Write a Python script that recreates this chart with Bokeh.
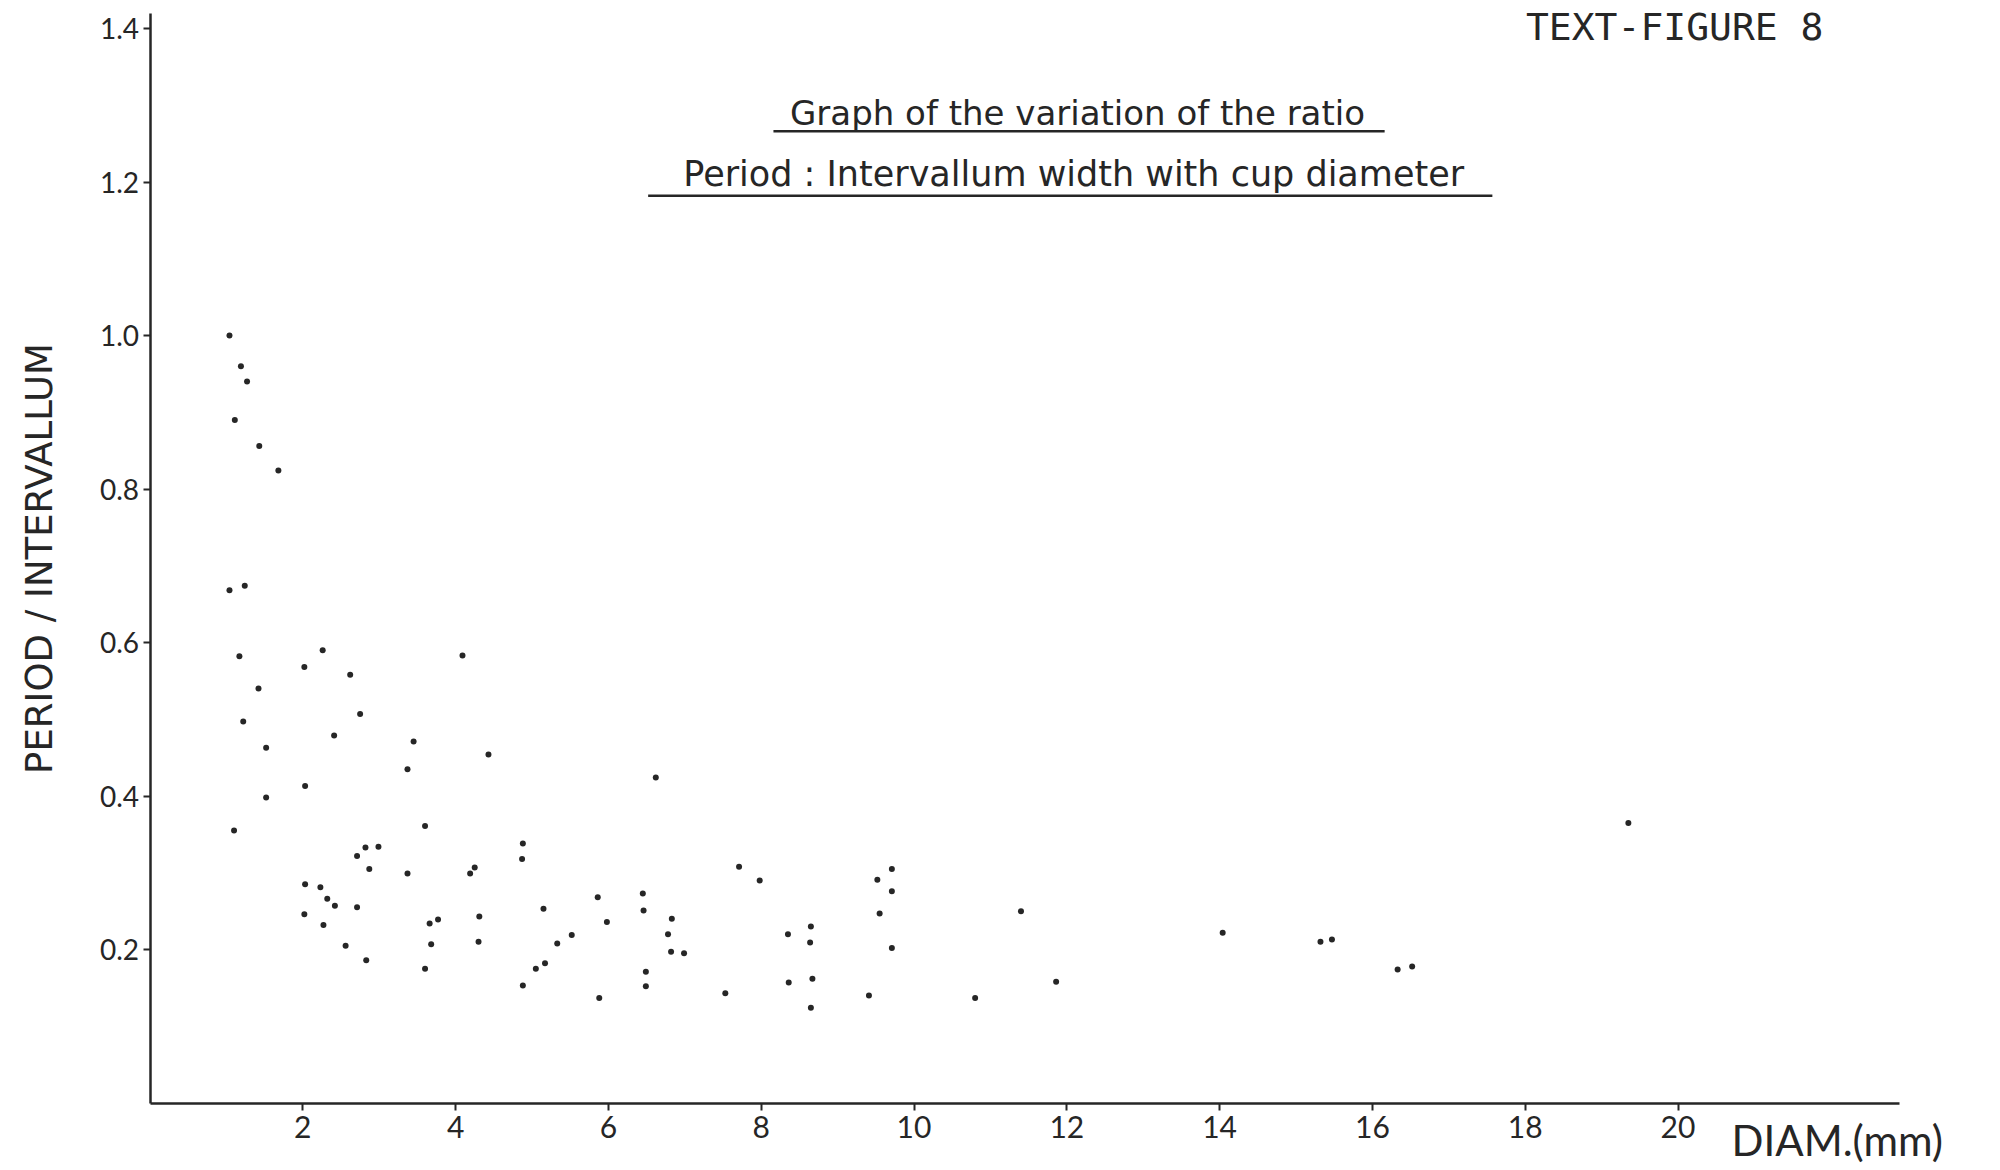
from bokeh.plotting import figure
from bokeh.models import Label, FixedTicker, PrintfTickFormatter, Range1d, ColumnDataSource
from bokeh.embed import file_html
from bokeh.resources import INLINE

# ---- data ----
diam = [1.04, 1.19, 1.27, 1.11, 1.43, 1.68, 1.04, 1.24, 2.26, 1.17,
        2.02, 2.62, 1.42, 2.75, 1.22, 2.41, 3.45, 1.52, 3.37, 2.03,
        1.52, 1.10, 3.60, 2.82, 2.99, 2.71, 2.87, 3.37, 2.03, 2.23,
        2.32, 2.42, 2.71, 2.02, 2.27, 3.66, 3.77, 3.68, 2.56, 2.83,
        3.60, 4.09, 4.43, 6.62, 4.88, 4.87, 4.25, 4.19, 5.86, 6.45,
        6.46, 5.15, 5.98, 4.31, 6.83, 6.78, 4.30, 5.33, 5.52, 6.82,
        6.99, 5.17, 5.05, 6.49, 6.49, 4.88, 5.88, 7.71, 7.98, 9.71,
        9.52, 9.71, 9.55, 8.65, 8.35, 8.64, 9.71, 8.36, 8.67, 7.53,
        9.41, 8.65, 10.80, 11.40, 14.04, 11.86, 15.32, 15.47, 16.33, 16.52,
        19.35]
ratio = [1.000, 0.960, 0.940, 0.890, 0.856, 0.824, 0.668, 0.674, 0.590, 0.582,
         0.568, 0.558, 0.540, 0.507, 0.497, 0.479, 0.471, 0.463, 0.435, 0.413,
         0.398, 0.355, 0.361, 0.333, 0.334, 0.322, 0.305, 0.299, 0.285, 0.281,
         0.266, 0.257, 0.255, 0.246, 0.232, 0.234, 0.239, 0.207, 0.205, 0.186,
         0.175, 0.583, 0.454, 0.424, 0.338, 0.318, 0.307, 0.299, 0.268, 0.273,
         0.251, 0.253, 0.236, 0.243, 0.240, 0.220, 0.210, 0.208, 0.219, 0.197,
         0.195, 0.182, 0.175, 0.171, 0.152, 0.153, 0.137, 0.308, 0.290, 0.305,
         0.291, 0.276, 0.247, 0.230, 0.220, 0.209, 0.202, 0.157, 0.162, 0.143,
         0.140, 0.124, 0.137, 0.250, 0.222, 0.158, 0.210, 0.213, 0.174, 0.178,
         0.365]

x_ticks = [2, 4, 6, 8, 10, 12, 14, 16, 18, 20]
y_ticks = [0.2, 0.4, 0.6, 0.8, 1.0, 1.2, 1.4]

figure_label = "TEXT-FIGURE  8"
title_line1 = "Graph of the variation of the ratio"
title_line2 = "Period : Intervallum width with cup diameter"
x_label = "DIAM.(mm)"
y_label = "PERIOD / INTERVALLUM"

INK = "#262626"

# frame fills the whole canvas; axes are pinned at x=0 / y=0
p = figure(width=1990, height=1165,
           x_range=Range1d(-1.957, 24.09), y_range=Range1d(-0.0814, 1.4365),
           output_backend="svg", toolbar_location=None,
           min_border_left=0, min_border_right=0,
           min_border_top=0, min_border_bottom=0)
p.grid.visible = False
p.outline_line_color = None
p.background_fill_color = "white"
p.border_fill_color = "white"

# x axis
xa = p.xaxis[0]
xa.fixed_location = 0
xa.bounds = (0, 22.9)
xa.ticker = FixedTicker(ticks=x_ticks)
xa.formatter = PrintfTickFormatter(format="%d")
xa.axis_line_width = 2.5
xa.axis_line_color = INK
xa.major_tick_line_color = INK
xa.major_tick_line_width = 2
xa.major_tick_out = 7
xa.major_tick_in = 0
xa.minor_tick_line_color = None
xa.major_label_text_font = "Lato"
xa.major_label_text_font_size = "30px"
xa.major_label_text_color = INK
xa.major_label_standoff = 6

# y axis
ya = p.yaxis[0]
ya.fixed_location = 0
ya.bounds = (0, 1.42)
ya.ticker = FixedTicker(ticks=y_ticks)
ya.formatter = PrintfTickFormatter(format="%.1f")
ya.axis_line_width = 2.5
ya.axis_line_color = INK
ya.major_tick_line_color = INK
ya.major_tick_line_width = 2
ya.major_tick_out = 7
ya.major_tick_in = 0
ya.minor_tick_line_color = None
ya.major_label_text_font = "Lato"
ya.major_label_text_font_size = "28px"
ya.major_label_text_color = INK
ya.major_label_standoff = 4
ya.axis_label = y_label
ya.axis_label_text_font = "DejaVu Sans"
ya.axis_label_text_font_size = "37px"
ya.axis_label_text_font_style = "normal"
ya.axis_label_text_color = INK
ya.axis_label_standoff = 36

# data points
src = ColumnDataSource(dict(diam=diam, ratio=ratio))
p.scatter("diam", "ratio", source=src, size=6, color=INK, line_color=None)

# title lines and underlines
p.add_layout(Label(x=12.14, y=1.290, text=title_line1, text_align="center",
                   text_baseline="middle", text_font="DejaVu Sans",
                   text_font_size="34px", text_color=INK))
p.add_layout(Label(x=12.09, y=1.211, text=title_line2, text_align="center",
                   text_baseline="middle", text_font="DejaVu Sans",
                   text_font_size="35px", text_color=INK))
p.segment(x0=[8.16, 6.52], y0=[1.266, 1.182], x1=[16.16, 17.57], y1=[1.266, 1.182],
          line_color=INK, line_width=2.5)

# figure label at top right
p.add_layout(Label(x=18.01, y=1.402, text=figure_label, text_align="left",
                   text_baseline="middle", text_font="DejaVu Sans Mono",
                   text_font_size="38px", text_color=INK))

# x axis label at the right end of the axis
p.add_layout(Label(x=20.7, y=-0.048, text=x_label, text_align="left",
                   text_baseline="middle", text_font="Lato",
                   text_font_size="42px", text_color=INK))

open("out.html", "w").write(file_html(p, INLINE))
